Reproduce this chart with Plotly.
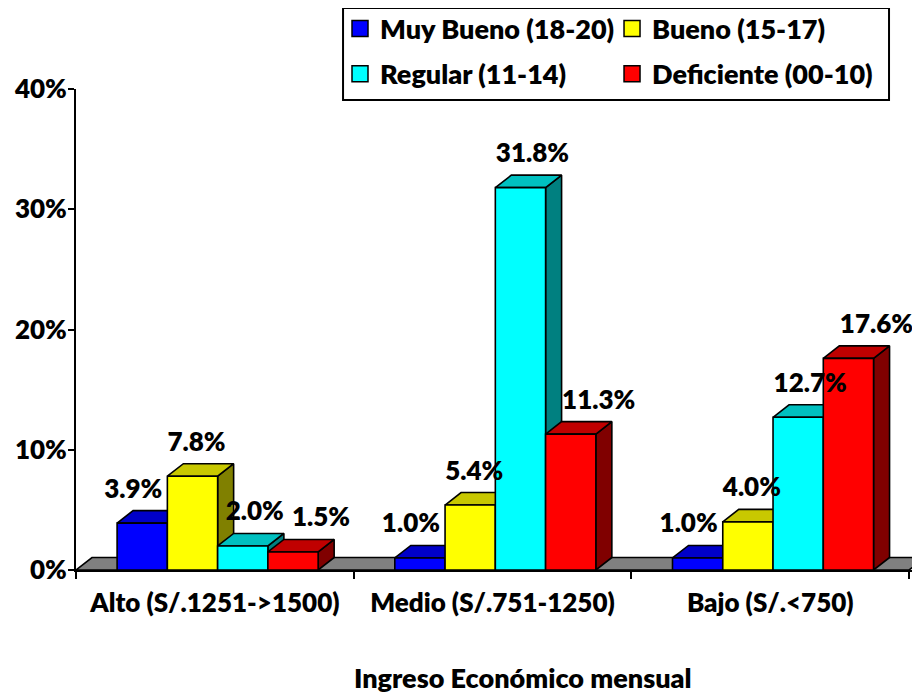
import plotly.graph_objects as go

categorias = ["Alto (S/.1251->1500)", "Medio (S/.751-1250)", "Bajo (S/.<750)"]
series = ["Muy Bueno (18-20)", "Bueno (15-17)", "Regular (11-14)", "Deficiente (00-10)"]
muy_bueno = [0.039, 0.010, 0.010]
bueno = [0.078, 0.054, 0.040]
regular = [0.020, 0.318, 0.127]
deficiente = [0.015, 0.113, 0.176]
valores = [muy_bueno, bueno, regular, deficiente]

color_frente = ["#0000FF", "#FFFF00", "#00FFFF", "#FF0000"]
color_techo = ["#0000C8", "#C8C800", "#00C0C0", "#C00000"]
color_lado = ["#000080", "#808000", "#008080", "#800000"]

FUENTE = "Lato"
PESO = 800
# the page body adds an 8px margin, so the figure is a bit smaller than the window
ANCHO, ALTO = 912, 685
M_IZQ, M_SUP, M_INF = 68, 81, 123
X_RANGO = [-0.5, -0.5 + (ANCHO - M_IZQ) / 277.7]
Y_RANGO = [0, 0.4]

# pseudo-3D depth, expressed in data units
px_x = (ANCHO - M_IZQ) / (X_RANGO[1] - X_RANGO[0])
px_y = (ALTO - M_SUP - M_INF) / (Y_RANGO[1] - Y_RANGO[0])
DX = 16 / px_x
DY = 12.5 / px_y
ANCHO_BARRA = 0.181
DESPLAZA = 0.01
# Excel-like label nudges per series (px, from bar front centre)
NUDGE_X = [-9, 4, 12, 28]
NUDGE_Y = 32


def cara(xs, ys, color):
    return go.Scatter(
        x=xs + [xs[0]], y=ys + [ys[0]], mode="lines", fill="toself",
        fillcolor=color, line=dict(color="black", width=1.6),
        hoverinfo="skip", showlegend=False,
    )


fig = go.Figure()

# floor
fig.add_trace(cara([-0.5, 2.5, 2.5 + DX, -0.5 + DX], [0, 0, DY, DY], "#808080"))

etiquetas_x, etiquetas_y, etiquetas_t = [], [], []
for i in range(len(categorias)):
    for j, vals in enumerate(valores):
        v = vals[i]
        x0 = i - 2 * ANCHO_BARRA + j * ANCHO_BARRA + DESPLAZA
        x1 = x0 + ANCHO_BARRA
        fig.add_trace(cara([x1, x1 + DX, x1 + DX, x1], [0, DY, v + DY, v], color_lado[j]))
        fig.add_trace(cara([x0, x1, x1 + DX, x0 + DX], [v, v, v + DY, v + DY], color_techo[j]))
        fig.add_trace(cara([x0, x1, x1, x0], [0, 0, v, v], color_frente[j]))
        etiquetas_x.append((x0 + x1) / 2 + NUDGE_X[j] / px_x)
        etiquetas_y.append(v + NUDGE_Y / px_y)
        etiquetas_t.append(f"{v * 100:.1f}%")

fig.add_trace(go.Scatter(
    x=etiquetas_x, y=etiquetas_y, text=etiquetas_t, mode="text",
    textposition="middle center", cliponaxis=False, showlegend=False,
    textfont=dict(family=FUENTE, size=26, color="black", weight=PESO),
))

# legend entries: two columns -> two legends
for k, (nombre, color) in enumerate(zip(series, color_frente)):
    fig.add_trace(go.Scatter(
        x=[None], y=[None], mode="markers", name=nombre,
        legend="legend" if k % 2 == 0 else "legend2", legendgroup=nombre,
        marker=dict(symbol="square", size=17, color=color,
                    line=dict(color="black", width=1.5)),
    ))

leyenda = dict(
    orientation="v", y=1.078, xanchor="left", yanchor="middle",
    bgcolor="rgba(0,0,0,0)", borderwidth=0, tracegroupgap=7,
    font=dict(family=FUENTE, size=27, weight=PESO),
)

fig.update_layout(
    width=ANCHO, height=ALTO,
    margin=dict(l=M_IZQ, r=0, t=M_SUP, b=M_INF, autoexpand=False),
    paper_bgcolor="white", plot_bgcolor="white",
    font=dict(family=FUENTE, size=27, color="black", weight=PESO),
    legend=dict(leyenda, x=0.3128),
    legend2=dict(leyenda, x=0.6351),
    shapes=[dict(type="rect", xref="paper", yref="paper",
                 x0=0.3164, x1=0.9633, y0=0.9771, y1=1.1684,
                 line=dict(color="black", width=2))],
    annotations=[dict(text="Ingreso Económico mensual", xref="paper", yref="paper",
                      x=0.5296, y=-0.2225, xanchor="center", yanchor="middle",
                      showarrow=False, font=dict(family=FUENTE, size=27, weight=PESO))],
    xaxis=dict(
        range=X_RANGO, tickvals=[0, 1, 2], ticktext=categorias, ticks="",
        ticklabelstandoff=9,
        showline=True, linecolor="black", linewidth=2, showgrid=False, zeroline=False,
        minor=dict(tickvals=[-0.5, 0.5, 1.5, 2.5], ticks="outside", ticklen=7,
                   tickwidth=2, tickcolor="black"),
        tickfont=dict(family=FUENTE, size=26, weight=PESO),
    ),
    yaxis=dict(
        range=Y_RANGO, dtick=0.1, tickformat=".0%", ticks="outside", ticklen=6,
        tickwidth=2, tickcolor="black", showline=True, linecolor="black",
        linewidth=2, showgrid=False, zeroline=False, ticklabelstandoff=-4,
        tickfont=dict(family=FUENTE, size=26, weight=PESO),
    ),
)

fig.write_html("out.html")
